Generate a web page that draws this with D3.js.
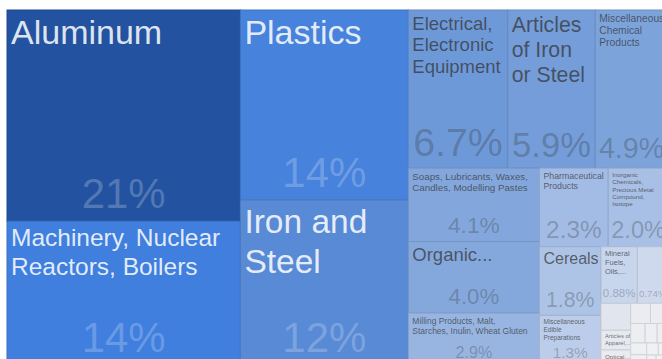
<!DOCTYPE html>
<html><head><meta charset="utf-8">
<script src="https://cdn.jsdelivr.net/npm/d3@7"></script>
<style>html,body{margin:0;padding:0;background:#fff;overflow:hidden}</style>
</head><body><svg id="chart" width="662" height="359"></svg>
<script>
// ---- data ----
const categories = [
  "Aluminum",
  "Machinery, Nuclear Reactors, Boilers",
  "Plastics",
  "Iron and Steel",
  "Electrical, Electronic Equipment",
  "Articles of Iron or Steel",
  "Miscellaneous Chemical Products",
  "Soaps, Lubricants, Waxes, Candles, Modelling Pastes",
  "Organic...",
  "Milling Products, Malt, Starches, Inulin, Wheat Gluten",
  "Pharmaceutical Products",
  "Inorganic Chemicals, Precious Metal Compound, Isotope",
  "Cereals",
  "Miscellaneous Edible Preparations",
  "Mineral Fuels, Oils,...",
  "",
  "",
  "Articles of Apparel,...",
  "Optical,...",
  "", "", "", "", "", "", "", "", "", "", "", ""
];
const shares = [
  21, 14.3, 13.6, 11.8,
  6.7, 5.9, 4.9,
  4.1, 4.0, 2.9,
  2.3, 2.0,
  1.8, 1.3,
  0.88, 0.74,
  0.34, 0.25, 0.19, 0.17,
  0.15, 0.12, 0.10, 0.09, 0.08, 0.07, 0.06, 0.05, 0.04, 0.03, 0.02, 0.02
];
const colorStops = [0, 0.3, 0.9, 2, 4, 7, 12, 14.3, 21];
const colorRange = ["#f2f3f5", "#e3e7ee", "#c6d4ed", "#a8c0e6", "#84a8dc", "#6b97d7", "#5789d6", "#407fde", "#2353a0"];

// ---- layout ----
const X0 = 7, Y0 = 10, W = 661, H = 355;
const FONT = "'Liberation Sans', Arial, Helvetica, sans-serif";
const color = d3.scaleLinear().domain(colorStops).range(colorRange).interpolate(d3.interpolateRgb);
const pctFmt = d3.format(".2r");

const total = d3.sum(shares);
const root = d3.hierarchy({children: categories.map((c, i) => ({name: c, value: shares[i]}))})
  .sum(d => d.value || 0)
  .sort((a, b) => b.value - a.value);
d3.treemap().tile(d3.treemapSquarify.ratio(1.575)).size([W, H]).round(false)(root);

const ctx = document.createElement("canvas").getContext("2d");
function tw(s, f) { ctx.font = `${f}px ${FONT}`; return ctx.measureText(s).width; }
function wrap(text, f, maxW) {
  const words = text.split(/\s+/).filter(Boolean);
  const lines = []; let cur = "";
  for (const w of words) {
    if (tw(w, f) > maxW) return null;
    const t = cur ? cur + " " + w : w;
    if (tw(t, f) <= maxW) cur = t; else { lines.push(cur); cur = w; }
  }
  if (cur) lines.push(cur);
  return lines;
}
function fitLabel(text, w, h, withPct) {
  if (!text) return null;
  const maxH = withPct ? 0.48 * h : h - 4;
  for (let f = 34; f >= 4; f -= 0.25) {
    if (withPct && f > 0.26 * h) continue;
    const lines = wrap(text, f, 0.9 * w);
    if (lines && lines.length * 1.18 * f <= maxH) return {f, lines};
  }
  return null;
}

const svg = d3.select("#chart");
const g = svg.append("g").attr("transform", `translate(${X0},${Y0})`);
const leaves = root.leaves();
const cell = g.selectAll("g.cell").data(leaves).join("g").attr("class", "cell")
  .attr("transform", d => `translate(${d.x0},${d.y0})`);

cell.append("rect")
  .attr("width", d => d.x1 - d.x0)
  .attr("height", d => d.y1 - d.y0)
  .attr("fill", d => color(d.value))
  .attr("stroke", d => d3.color(color(d.value)).darker(0.35))
  .attr("stroke-width", 1);

cell.each(function(d) {
  const w = d.x1 - d.x0, h = d.y1 - d.y0;
  const fill = color(d.value);
  const dark = d3.lab(fill).l < 58;
  const el = d3.select(this);
  const pstr = pctFmt(d.value / total * 100) + "%";
  const pf = Math.min(42, 0.31 * h, 0.9 * w / (tw(pstr, 100) / 100));
  const showPct = pf >= 7 && h >= 40;
  const fit = fitLabel(d.data.name, w, h, showPct);
  if (fit) {
    const t = el.append("text")
      .attr("font-family", FONT).attr("font-size", fit.f)
      .attr("fill", dark ? "#ffffff" : "#333333")
      .attr("fill-opacity", dark ? 0.86 : 0.72);
    fit.lines.forEach((ln, i) => {
      t.append("tspan").attr("x", 4).attr("y", 3 + 0.9 * fit.f + i * 1.18 * fit.f).text(ln);
    });
  }
  if (showPct) {
    el.append("text")
      .attr("font-family", FONT).attr("font-size", pf)
      .attr("text-anchor", "middle")
      .attr("x", w / 2).attr("y", h - 4 - 0.21 * pf)
      .attr("fill", dark ? "#ffffff" : "#333333")
      .attr("fill-opacity", dark ? 0.22 : 0.3)
      .text(pstr);
  }
});
</script>
</body></html>
